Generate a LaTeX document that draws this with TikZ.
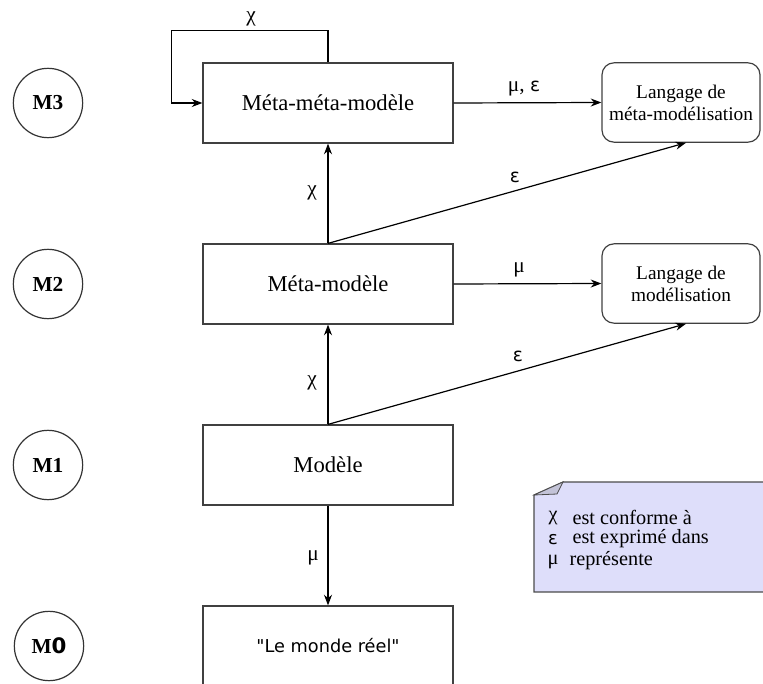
\documentclass[tikz,border=0pt]{standalone}
\usepackage{fontspec}
\setmainfont{Liberation Serif}
\newfontfamily\dv{DejaVu Sans}
\usetikzlibrary{arrows.meta,calc}
\definecolor{notefill}{RGB}{222,222,250}
\definecolor{foldfill}{RGB}{195,195,215}
\begin{document}
\begin{tikzpicture}[x=0.75pt,y=-0.75pt,
  line width=0.9pt,
  arr/.style={-{Stealth[length=8pt,width=6pt]}},
  mbox/.style={draw=black!75,minimum width=187.5pt,minimum height=60pt,inner sep=0pt,font=\fontsize{17}{20}\selectfont},
  lbox/.style={draw=black!75,rounded corners=9pt,minimum width=118.5pt,minimum height=59.5pt,inner sep=0pt,align=center,font=\fontsize{14.5}{16.5}\selectfont},
  lvl/.style={draw=black!80,circle,minimum size=52pt,inner sep=0pt,font=\fontsize{16}{18}\selectfont\bfseries},
  elab/.style={font=\fontsize{16}{18}\selectfont,inner sep=1pt},
  leg/.style={font=\fontsize{15.2}{16}\selectfont,inner sep=0pt}]
\clip (0,0) rectangle (763,684);
\useasboundingbox (0,0) rectangle (763,684);

% level circles
\node[lvl] (m3) at (48,103) {M3};
\node[lvl] (m2) at (48,284) {M2};
\node[lvl] (m1) at (48,465) {M1};
\node[lvl] (m0) at (49,646) {M{\dv\bfseries 0}};

% main boxes
\node[mbox] (mm) at (328,103) {Méta-méta-modèle};
\node[mbox] (meta) at (328,284) {Méta-modèle};
\node[mbox] (mod) at (328,465) {Modèle};
\node[mbox,font=\dv\fontsize{13.3}{16}\selectfont] (real) at (328,646) {"Le monde réel"};

% language boxes
\node[lbox] (lmm) at (681,102.5) {Langage de\\méta-modélisation};
\node[lbox] (lm) at (681,283.5) {Langage de\\modélisation};

% self loop
\draw[arr] (mm.north) -- ++(0,-32) -| ($(mm.west)+(-31,0)$) -- (mm.west);
\node[elab] (x0) at (251,19) {χ};

% arrows M3
\draw[arr] (mm.east) -- (lmm.west);
\node[elab] (l1) at (524,89) {μ, {\dv\fontsize{14}{16}\selectfont ε}};

% arrows M2
\draw[arr] (meta.north) -- (mm.south);
\node[elab] (x1) at (312,193) {χ};
\draw[arr] (meta.north) -- ($(lmm.south)+(5,0)$);
\node[elab] (e1) at (515,177) {\dv\fontsize{14}{16}\selectfont ε};
\draw[arr] (meta.east) -- (lm.west);
\node[elab] (m2l) at (519,270) {μ};

% arrows M1
\draw[arr] (mod.north) -- (meta.south);
\node[elab] (x2) at (312,383) {χ};
\draw[arr] (mod.north) -- ($(lm.south)+(5,0)$);
\node[elab] (e2) at (518,356) {\dv\fontsize{14}{16}\selectfont ε};
\draw[arr] (mod.south) -- (real.north);
\node[elab] (m1l) at (313,558) {μ};

% note
\draw[draw=black!70,fill=notefill] (534,495) -- (563,482) -- (775,482) -- (775,592) -- (534,592) -- cycle;
\draw[draw=black!70,fill=foldfill,line width=0.6pt] (534,495) -- (563,482) -- (557,494) -- cycle;
\node[leg] (s1) at (553,518) {χ};
\node[leg] (s2) at (553,540) {\dv\fontsize{13.5}{15}\selectfont ε};
\node[leg] (s3) at (553,562) {μ};
\node[leg,anchor=west] (t1) at (572,517) {est conforme à};
\node[leg,anchor=west] (t2) at (572,539) {est exprimé dans};
\node[leg,anchor=west] (t3) at (569,561) {représente};
\end{tikzpicture}
\end{document}
